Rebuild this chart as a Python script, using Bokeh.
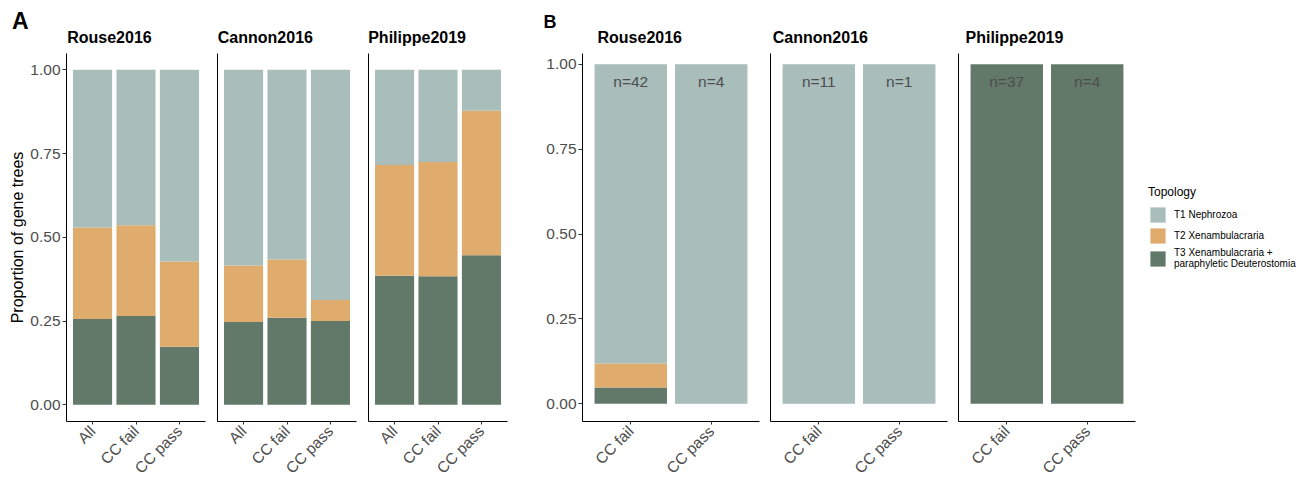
import math
from bokeh.plotting import figure
from bokeh.models import (ColumnDataSource, FactorRange, Range1d, FixedTicker,
                          NumeralTickFormatter, Legend, LegendItem)
from bokeh.layouts import row, column
from bokeh.embed import file_html
from bokeh.resources import INLINE
from bokeh.core.properties import value

FONT = "Liberation Sans"

# ---------------- data ----------------
studies = ["Rouse2016", "Cannon2016", "Philippe2019"]
topologies = ["T1 Nephrozoa", "T2 Xenambulacraria",
              "T3 Xenambulacraria +\nparaphyletic Deuterostomia"]
topo_colors = ["#A9BDBB", "#E0AC6D", "#62796A"]
panel_labels = ["A", "B"]

# Panel A: proportion of gene trees per topology
cats_a = ["All", "CC fail", "CC pass"]
rouse_a_t1 = [0.471, 0.464, 0.572]
rouse_a_t2 = [0.273, 0.271, 0.255]
rouse_a_t3 = [0.256, 0.265, 0.173]
cannon_a_t1 = [0.584, 0.566, 0.6875]
cannon_a_t2 = [0.169, 0.174, 0.0625]
cannon_a_t3 = [0.247, 0.260, 0.250]
philippe_a_t1 = [0.284, 0.275, 0.122]
philippe_a_t2 = [0.331, 0.341, 0.432]
philippe_a_t3 = [0.385, 0.384, 0.446]

# Panel B
cats_b = ["CC fail", "CC pass"]
rouse_b_t1 = [0.881, 1.0]
rouse_b_t2 = [0.071, 0.0]
rouse_b_t3 = [0.048, 0.0]
rouse_b_n = ["n=42", "n=4"]
cannon_b_t1 = [1.0, 1.0]
cannon_b_t2 = [0.0, 0.0]
cannon_b_t3 = [0.0, 0.0]
cannon_b_n = ["n=11", "n=1"]
philippe_b_t1 = [0.0, 0.0]
philippe_b_t2 = [0.0, 0.0]
philippe_b_t3 = [1.0, 1.0]
philippe_b_n = ["n=37", "n=4"]

n_label_y = 0.95
y_ticks = [0.0, 0.25, 0.5, 0.75, 1.0]

TOTAL_W = 1303
HEADER_H = 47
TOP, FH, BOT = 6, 368, 57


def facet(cats, t1, t2, t3, fw, yr, left, right, first, nlabels=None):
    p = figure(x_range=FactorRange(factors=cats, range_padding=0.1,
                                   range_padding_units="absolute"),
               y_range=Range1d(*yr),
               frame_width=fw, frame_height=FH,
               min_border_left=left, min_border_right=right,
               min_border_top=TOP, min_border_bottom=BOT,
               output_backend="svg", toolbar_location=None,
               outline_line_color=None, background_fill_color="white",
               border_fill_color="white")
    src = ColumnDataSource(dict(cat=cats, t3=t3, t2=t2, t1=t1))
    rs = p.vbar_stack(["t3", "t2", "t1"], x="cat", width=0.9,
                      fill_color=[topo_colors[2], topo_colors[1], topo_colors[0]],
                      line_color=None, source=src)
    p.xgrid.visible = False
    p.ygrid.visible = False

    xa = p.xaxis[0]
    xa.major_label_orientation = math.pi / 4
    xa.major_label_text_font = FONT
    xa.major_label_text_font_size = "15.5px"
    xa.major_label_text_color = "#4d4d4d"
    xa.major_label_standoff = 4
    xa.major_tick_out = 3
    xa.major_tick_in = 0
    xa.major_tick_line_color = "#333333"
    xa.axis_line_color = "black"
    xa.axis_line_width = 1

    ya = p.yaxis[0]
    ya.minor_tick_line_color = None
    ya.axis_line_color = "black"
    ya.axis_line_width = 1
    if first:
        ya.ticker = FixedTicker(ticks=y_ticks)
        ya.formatter = NumeralTickFormatter(format="0.00")
        ya.major_label_text_font = FONT
        ya.major_label_text_font_size = "15.5px"
        ya.major_label_text_color = "#4d4d4d"
        ya.major_label_standoff = 2
        ya.major_tick_out = 4
        ya.major_tick_in = 0
        ya.major_tick_line_color = "#333333"
    else:
        ya.ticker = FixedTicker(ticks=[])
        ya.major_label_standoff = 0
        ya.major_tick_out = 0
        ya.major_tick_in = 0

    if nlabels is not None:
        nsrc = ColumnDataSource(dict(cat=cats, y=[n_label_y] * len(cats), lab=nlabels))
        p.text(x="cat", y="y", text="lab", source=nsrc, text_font=value(FONT),
               text_font_size=value("15.5px"), text_align="center",
               text_baseline="middle", text_color="#4d4d4d")
    return p, rs


# ---------------- header with panel letters and facet strips ----------------
header = figure(width=TOTAL_W, height=HEADER_H,
                x_range=Range1d(0, TOTAL_W), y_range=Range1d(HEADER_H, 0),
                x_axis_type=None, y_axis_type=None,
                min_border_left=0, min_border_right=0, min_border_top=0,
                min_border_bottom=0, output_backend="svg", toolbar_location=None,
                outline_line_color=None, background_fill_color="white",
                border_fill_color="white")
header.xgrid.visible = False
header.ygrid.visible = False
header.text(x=[11.5], y=[20.3], text=[panel_labels[0]], text_font=value(FONT),
            text_font_size=value("23px"), text_font_style="bold",
            text_baseline="middle", text_color="black")
header.text(x=[543], y=[21.0], text=[panel_labels[1]], text_font=value(FONT),
            text_font_size=value("18px"), text_font_style="bold",
            text_baseline="middle", text_color="black")
header.text(x=[66.7, 217.3, 367.7, 597, 772.3, 965], y=[37.2] * 6,
            text=studies + studies, text_font=value(FONT),
            text_font_size=value("16px"), text_font_style="bold",
            text_baseline="middle", text_color="black")

# ---------------- panel A ----------------
FWA, YRA = 139, (-0.05, 1.0487)
a1, _ = facet(cats_a, rouse_a_t1, rouse_a_t2, rouse_a_t3, FWA, YRA, 66, 6, True)
a1.yaxis[0].axis_label = "Proportion of gene trees"
a1.yaxis[0].axis_label_text_font = FONT
a1.yaxis[0].axis_label_text_font_size = "16px"
a1.yaxis[0].axis_label_text_font_style = "normal"
a1.yaxis[0].axis_label_text_color = "black"
a1.yaxis[0].axis_label_standoff = 1
a2, _ = facet(cats_a, cannon_a_t1, cannon_a_t2, cannon_a_t3, FWA, YRA, 6, 6, False)
a3, _ = facet(cats_a, philippe_a_t1, philippe_a_t2, philippe_a_t3, FWA, YRA, 6, 25, False)

# ---------------- panel B ----------------
FWB, YRB = 177, (-0.052, 1.032)
b1, _ = facet(cats_b, rouse_b_t1, rouse_b_t2, rouse_b_t3, FWB, YRB, 50, 5, True, rouse_b_n)
b2, _ = facet(cats_b, cannon_b_t1, cannon_b_t2, cannon_b_t3, FWB, YRB, 6, 5, False, cannon_b_n)
b3, rs3 = facet(cats_b, philippe_b_t1, philippe_b_t2, philippe_b_t3, FWB, YRB, 6, 168,
                False, philippe_b_n)

legend = Legend(items=[LegendItem(label=topologies[0], renderers=[rs3[2]]),
                       LegendItem(label=topologies[1], renderers=[rs3[1]]),
                       LegendItem(label=topologies[2], renderers=[rs3[0]])],
                location=(13, 152), title="Topology",
                title_text_font=FONT, title_text_font_size="12px",
                title_text_font_style="normal", title_text_color="black",
                title_standoff=6,
                label_text_font=FONT, label_text_font_size="10px",
                label_text_color="black",
                glyph_width=19, glyph_height=19, label_standoff=7, spacing=2,
                padding=0, margin=0, border_line_color=None,
                background_fill_alpha=0)
b3.add_layout(legend, "right")

layout = column(header, row(a1, a2, a3, b1, b2, b3))
open("out.html", "w").write(file_html(layout, INLINE))
